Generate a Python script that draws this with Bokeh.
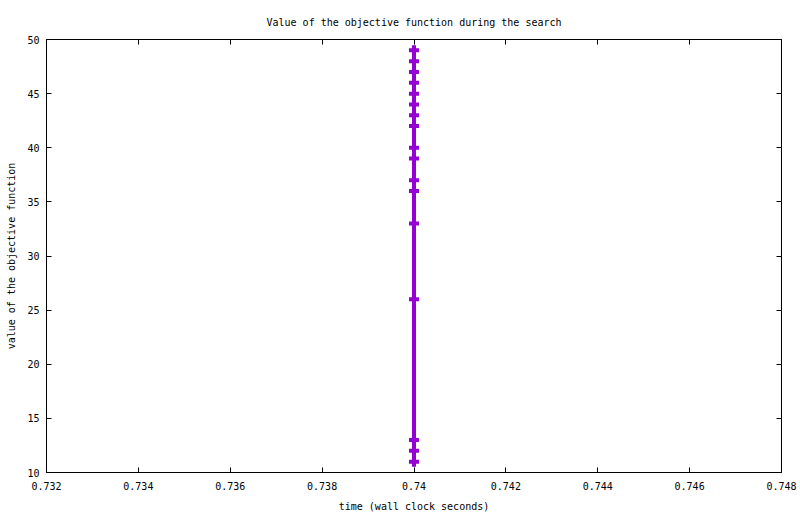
from bokeh.plotting import figure
from bokeh.models import LinearAxis, FixedTicker, Range1d, CustomJSTickFormatter
from bokeh.embed import file_html
from bokeh.resources import INLINE

# data
times = [0.74] * 17
values = [49, 48, 47, 46, 45, 44, 43, 42, 40, 39, 37, 36, 33, 26, 13, 12, 11]
x_ticks = [0.732, 0.734, 0.736, 0.738, 0.740, 0.742, 0.744, 0.746, 0.748]
y_ticks = [10, 15, 20, 25, 30, 35, 40, 45, 50]

FONT = "DejaVu Sans Mono"
COLOR = "#9400D3"

p = figure(width=800, height=514, output_backend="svg", toolbar_location=None,
           x_range=Range1d(0.732, 0.748), y_range=Range1d(10, 50),
           title="Value of the objective function during the search",
           min_border_left=46, min_border_right=19, min_border_top=39, min_border_bottom=42)

p.title.align = "center"
p.title.text_font = FONT
p.title.text_font_size = "10px"
p.title.text_font_style = "normal"
p.title.text_color = "black"
p.title.standoff = 24

p.xgrid.visible = False
p.ygrid.visible = False
p.outline_line_color = "black"
p.outline_line_width = 1
p.background_fill_color = "white"
p.border_fill_color = "white"

def style_axis(ax, ticks):
    ax.ticker = FixedTicker(ticks=ticks)
    ax.major_tick_in = 5
    ax.major_tick_out = 0
    ax.minor_tick_in = 0
    ax.minor_tick_out = 0
    ax.axis_line_color = "black"
    ax.major_tick_line_color = "black"
    ax.major_label_text_font = FONT
    ax.major_label_text_font_size = "10px"
    ax.major_label_text_color = "black"
    ax.axis_label_text_font = FONT
    ax.axis_label_text_font_size = "10px"
    ax.axis_label_text_font_style = "normal"
    ax.axis_label_text_color = "black"

style_axis(p.xaxis[0], x_ticks)
style_axis(p.yaxis[0], y_ticks)
p.xaxis[0].axis_label = "time (wall clock seconds)"
p.yaxis[0].axis_label = "value of the objective function"
p.xaxis[0].major_label_standoff = 9
p.xaxis[0].axis_label_standoff = 8
p.yaxis[0].major_label_standoff = 7
p.yaxis[0].axis_label_standoff = 7
p.xaxis[0].formatter = CustomJSTickFormatter(code="return String(parseFloat(tick.toFixed(3)));")

top = LinearAxis(formatter=CustomJSTickFormatter(code="return '';"))
style_axis(top, x_ticks)
top.major_label_standoff = 0
p.add_layout(top, "above")
right = LinearAxis(formatter=CustomJSTickFormatter(code="return '';"))
style_axis(right, y_ticks)
right.major_label_standoff = 0
p.add_layout(right, "right")

p.line(times, values, line_color=COLOR, line_width=4)
p.scatter(times, values, marker="cross", size=10, line_color=COLOR, line_width=4)

open("out.html", "w").write(file_html(p, INLINE))
